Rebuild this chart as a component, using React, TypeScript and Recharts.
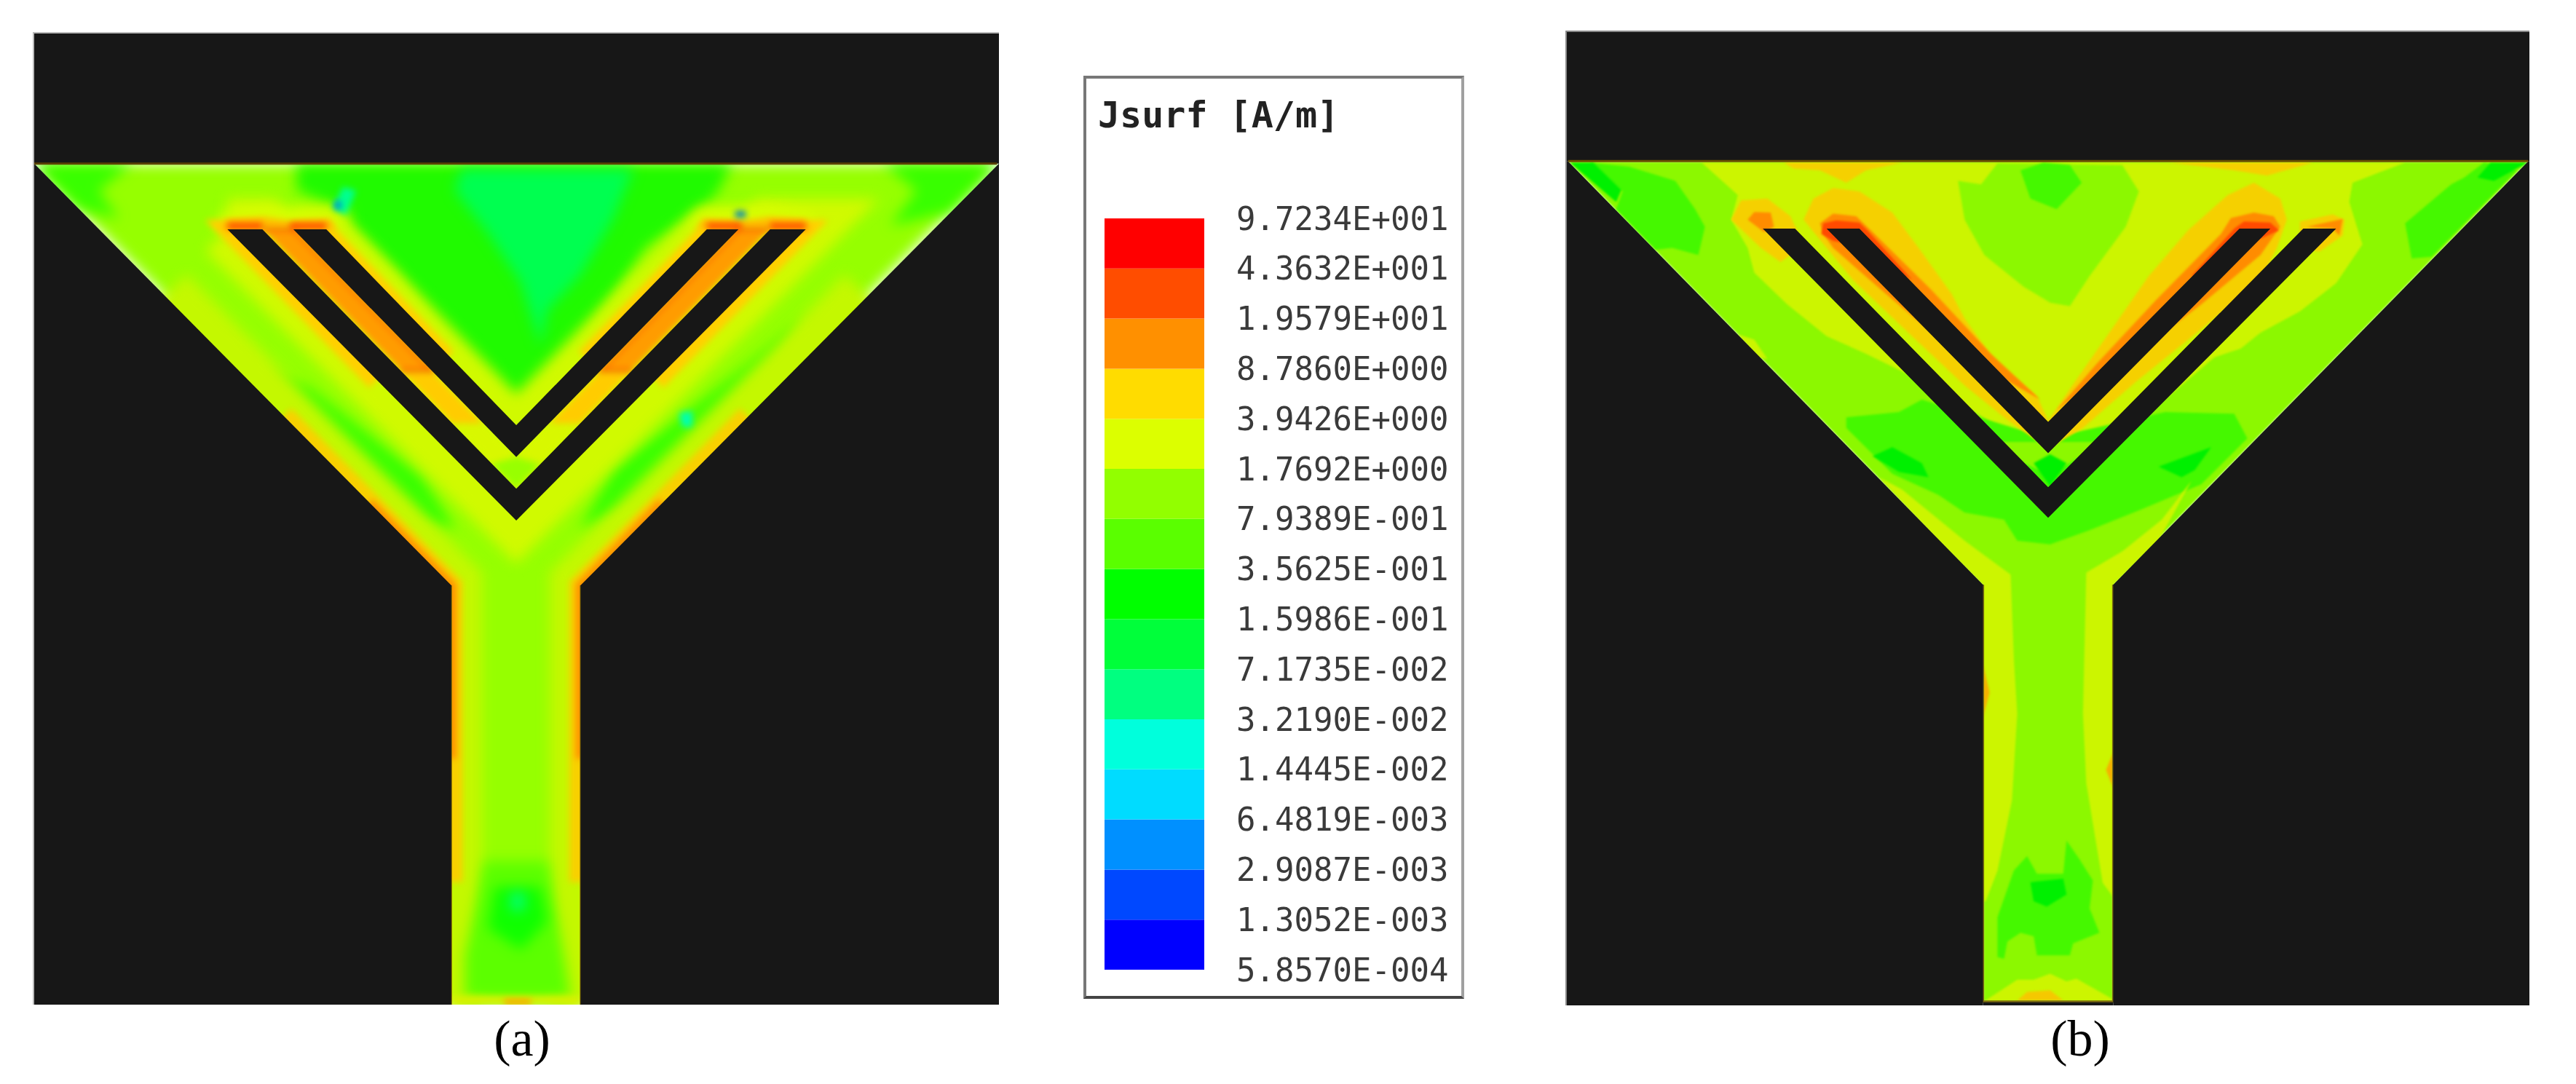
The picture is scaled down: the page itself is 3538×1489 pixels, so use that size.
import { Bar, BarChart, Scatter, ScatterChart, XAxis, YAxis } from 'recharts'

// band colours and labels of the Jsurf scale, top of the bar first
const bandColors = ['#ff0000', '#ff4d00', '#ff9000', '#ffdc00', '#dcff00', '#92ff00', '#5aff00', '#00ff00', '#00ff3a', '#00ff80', '#00ffdc', '#00dcff', '#0090ff', '#0048ff', '#0000ff']
const bandLabels = ['9.7234E+001', '4.3632E+001', '1.9579E+001', '8.7860E+000', '3.9426E+000', '1.7692E+000', '7.9389E-001', '3.5625E-001', '1.5986E-001', '7.1735E-002', '3.2190E-002', '1.4445E-002', '6.4819E-003', '2.9087E-003', '1.3052E-003', '5.8570E-004']

type Poly = number[][]
interface Layer { p: Poly; fill?: string; stroke?: string; w?: number }

// all shapes are in one traced unit system, per panel
const aPatch: Poly = [[52, 465], [1512, 465], [880, 1660], [880, 2847], [685, 2847], [685, 1660]]
const aOuterSlot: Poly = [[345, 650], [398, 650], [783, 1385], [1168, 650], [1222, 650], [783, 1475], [345, 650]]
const aInnerSlot: Poly = [[445, 650], [495, 650], [783, 1205], [1072, 650], [1120, 650], [783, 1295], [445, 650]]
const aStripOrangeL: Poly = [[398, 650], [445, 650], [655, 1050], [608, 1050]]
const aStripOrangeR: Poly = [[1168, 650], [1120, 650], [911, 1050], [958, 1050]]
const aStripGoldL: Poly = [[608, 1050], [655, 1050], [733, 1200], [686, 1200]]
const aStripGoldR: Poly = [[958, 1050], [911, 1050], [833, 1200], [880, 1200]]
const aStripYellow: Poly = [[686, 1200], [733, 1200], [783, 1295], [833, 1200], [880, 1200], [783, 1385]]
const aStripLime: Poly = [[745, 1315], [783, 1295], [820, 1315], [783, 1385]]
const aOuterHaloL: Poly = [[398, 650], [345, 650], [570, 1080]]
const aOuterHaloR: Poly = [[1168, 650], [1222, 650], [996, 1080]]
const aInnerHaloL: Poly = [[445, 650], [495, 650], [680, 1010]]
const aInnerHaloR: Poly = [[1120, 650], [1072, 650], [886, 1010]]
const aTipYellowL: Poly = [[325, 650], [335, 605], [400, 590], [500, 600], [520, 650]]
const aTipGoldL: Poly = [[335, 650], [345, 622], [400, 615], [440, 625], [500, 620], [510, 650]]
const aTipYellowR: Poly = [[1241, 650], [1231, 605], [1166, 590], [1066, 600], [1046, 650]]
const aTipGoldR: Poly = [[1231, 650], [1221, 622], [1166, 615], [1126, 625], [1066, 620], [1056, 650]]
const aCornerL: Poly = [[52, 465], [200, 465], [150, 540], [180, 620], [120, 590]]
const aCornerR: Poly = [[1512, 465], [1340, 465], [1390, 540], [1350, 640], [1440, 600]]
const aTopGreen: Poly = [[450, 465], [1110, 465], [1090, 540], [1060, 600], [980, 700], [880, 980], [783, 1180], [690, 1000], [600, 780], [530, 650], [530, 600], [450, 540]]
const aTopMint: Poly = [[700, 480], [960, 480], [930, 620], [880, 780], [830, 880], [820, 980], [790, 800], [740, 660], [690, 540]]
const aLobeL: Poly = [[400, 1050], [470, 1100], [640, 1350], [690, 1500], [640, 1480], [520, 1280], [420, 1120]]
const aLobeR: Poly = [[930, 1330], [1130, 1040], [1220, 900], [1150, 1150], [1000, 1400], [880, 1500]]
const aEdgeYellowL: Poly = [[250, 839], [685, 1660], [685, 2847]]
const aEdgeYellowR: Poly = [[1314, 839], [880, 1660], [880, 2847]]
const aEdgeGoldL: Poly = [[430, 1179], [685, 1660], [685, 2500]]
const aEdgeGoldR: Poly = [[1134, 1179], [880, 1660], [880, 2500]]
const aEdgeOrangeL: Poly = [[560, 1424], [685, 1660], [685, 2150]]
const aEdgeOrangeR: Poly = [[1004, 1424], [880, 1660], [880, 2150]]
const aStemLow: Poly = [[735, 2440], [830, 2440], [860, 2760], [865, 2829], [705, 2829], [705, 2710]]
const aStemGreen: Poly = [[750, 2513], [820, 2513], [830, 2612], [790, 2691], [740, 2631]]
const aStemMint: Poly = [[775, 2530], [795, 2530], [795, 2580], [775, 2580]]
const aFootYellow: Poly = [[685, 2822], [880, 2822], [880, 2847], [685, 2847]]
const aFootOrange: Poly = [[765, 2832], [805, 2832], [805, 2847], [765, 2847]]
const aCyanL: Poly = [[520, 530], [540, 540], [525, 610], [505, 590]]
const aCyanLow: Poly = [[1030, 1170], [1050, 1165], [1050, 1210], [1035, 1210]]
const aCaps: Poly[] = [
	[[345, 632], [398, 632], [398, 650], [345, 650]],
	[[440, 632], [495, 632], [495, 650], [440, 650]],
	[[1072, 632], [1125, 632], [1125, 650], [1072, 650]],
	[[1168, 632], [1222, 632], [1222, 650], [1168, 650]],
]
const aBlueL: Poly = [[508, 568], [518, 572], [516, 596], [507, 590]]
const aBlueR: Poly = [[1115, 598], [1131, 598], [1131, 616], [1115, 616]]
const aMaskTop: Poly = [[52, 95], [1515, 95], [1515, 464], [52, 464]]
const aMaskL: Poly = [[52, 464], [685, 1660], [685, 2847], [52, 2847]]
const aMaskR: Poly = [[1515, 464], [880, 1660], [880, 2847], [1515, 2847]]

const bPatch: Poly = [[37, 455], [1497, 455], [866, 1655], [866, 2836], [668, 2836], [668, 1655]]
const bOuterSlot: Poly = [[333, 645], [382, 645], [767, 1378], [1155, 645], [1205, 645], [767, 1465]]
const bInnerSlot: Poly = [[430, 645], [480, 645], [767, 1193], [1058, 645], [1105, 645], [767, 1282]]
const bYellow: Poly = [[240, 458], [1310, 458], [1230, 515], [1225, 570], [1245, 690], [1205, 800], [1150, 880], [1090, 940], [1060, 985], [1020, 1010], [900, 1200], [810, 1245], [720, 1240], [600, 1100], [490, 1000], [430, 950], [370, 860], [320, 770], [310, 700], [285, 620], [295, 550]]
const bCenterLime: Poly = [[630, 510], [665, 520], [690, 460], [880, 465], [905, 540], [885, 640], [830, 780], [800, 865], [770, 855], [730, 810], [670, 720], [640, 620]]
const bCenterGreen: Poly = [[725, 480], [760, 458], [800, 465], [818, 515], [780, 590], [740, 560]]
const bTopGoldL: Poly = [[365, 458], [545, 458], [490, 480], [460, 515], [420, 480], [380, 475]]
const bTopGoldR: Poly = [[950, 458], [1170, 458], [1100, 495], [1050, 480]]
const bGoldL: Poly = [[395, 620], [410, 560], [440, 530], [480, 540], [530, 600], [570, 700], [620, 830], [640, 900], [690, 1030], [750, 1120], [767, 1190], [767, 1270], [700, 1180], [640, 1090], [560, 950], [470, 790]]
const bGoldR: Poly = [[1130, 620], [1120, 560], [1080, 515], [1040, 550], [980, 650], [920, 780], [860, 940], [800, 1100], [767, 1190], [767, 1270], [820, 1210], [900, 1080], [1000, 930], [1090, 790], [1115, 700]]
const bTipGoldL: Poly = [[285, 620], [300, 565], [340, 560], [375, 610], [385, 650], [390, 700], [360, 740], [330, 700]]
const bTipOrangeL: Poly = [[310, 620], [320, 598], [345, 600], [350, 640], [335, 655]]
const bTipGoldR: Poly = [[1150, 625], [1200, 605], [1218, 620], [1215, 665], [1180, 710], [1150, 700]]
const bTipOrangeR: Poly = [[1160, 640], [1215, 618], [1210, 665], [1200, 645]]
const bOrangeL: Poly = [[425, 660], [420, 630], [440, 603], [475, 610], [500, 655], [590, 820], [680, 1000], [755, 1130], [670, 1040], [590, 940], [520, 830], [440, 700]]
const bOrangeR: Poly = [[1120, 640], [1110, 610], [1080, 600], [1045, 615], [1030, 660], [930, 850], [840, 1030], [780, 1160], [850, 1060], [930, 960], [1000, 860], [1090, 720]]
const bRedL: Poly = [[422, 660], [425, 630], [445, 622], [480, 628], [492, 650], [560, 790], [530, 760], [470, 690], [440, 680]]
const bRedR: Poly = [[1118, 650], [1105, 628], [1065, 625], [1050, 645], [985, 780], [1005, 775], [1060, 690], [1095, 670]]
const bCornerGreenL: Poly = [[130, 470], [200, 510], [230, 590], [245, 640], [235, 720], [195, 700], [170, 705], [110, 590], [120, 540], [70, 458]]
const bCornerGreenR: Poly = [[1430, 458], [1400, 500], [1380, 520], [1310, 630], [1320, 730], [1350, 725], [1480, 480]]
const bTipBrightL: Poly = [[40, 458], [75, 458], [118, 535], [110, 570]]
const bTipBrightR: Poly = [[1497, 458], [1440, 458], [1420, 500], [1445, 510]]
const bLowGreen: Poly = [[460, 1180], [540, 1165], [575, 1130], [767, 1240], [945, 1165], [1050, 1170], [1070, 1240], [1000, 1370], [910, 1440], [830, 1500], [770, 1540], [720, 1530], [700, 1470], [640, 1450], [600, 1400], [530, 1340], [460, 1210]]
const bBrightL: Poly = [[500, 1290], [530, 1265], [575, 1310], [585, 1350], [540, 1335]]
const bBrightR: Poly = [[935, 1320], [1015, 1265], [990, 1330], [970, 1350]]
const bBrightMid: Poly = [[745, 1310], [770, 1285], [795, 1310], [770, 1375]]
const bLimeGap: Poly = [[690, 1250], [850, 1250], [800, 1310], [767, 1340], [730, 1310]]
const bSideYellow: Poly = [[295, 945], [320, 960], [340, 1015], [325, 1010]]
const bStemYellowL: Poly = [[510, 1350], [545, 1385], [640, 1530], [710, 1626], [715, 1870], [720, 2020], [712, 2266], [690, 2465], [672, 2552], [668, 2552], [668, 1655], [600, 1530]]
const bStemYellowR: Poly = [[985, 1360], [940, 1470], [880, 1560], [825, 1620], [820, 2020], [825, 2217], [850, 2500], [866, 2540], [866, 1655], [935, 1530]]
const bStemGreen: Poly = [[735, 2424], [750, 2474], [790, 2474], [795, 2380], [815, 2434], [835, 2493], [830, 2572], [845, 2641], [805, 2671], [800, 2705], [750, 2705], [745, 2651], [725, 2641], [705, 2666], [700, 2715], [690, 2710], [690, 2597], [715, 2464]]
const bStemBright: Poly = [[740, 2498], [790, 2488], [795, 2533], [765, 2567], [745, 2552]]
const bFootYellow: Poly = [[675, 2829], [720, 2774], [745, 2774], [770, 2757], [795, 2779], [810, 2771], [865, 2829], [865, 2836], [670, 2836]]
const bFootGold: Poly = [[720, 2833], [735, 2809], [770, 2804], [790, 2833]]
const bSideOrangeL: Poly = [[668, 1882], [678, 1960], [668, 2030]]
const bSideOrangeR: Poly = [[866, 2130], [855, 2180], [866, 2230]]
const bOutline: Poly = [[668, 1655], [668, 2836], [866, 2836], [866, 1655]]
const bMaskTop: Poly = [[35, 88], [1499, 88], [1499, 455], [35, 455]]
const bMaskL: Poly = [[35, 455], [37, 455], [668, 1655], [668, 2847], [35, 2847]]
const bMaskR: Poly = [[1499, 455], [1497, 455], [866, 1655], [866, 2847], [1499, 2847]]
const bMaskBottom: Poly = [[668, 2838], [866, 2838], [866, 2847], [668, 2847]]

const PLATE = '#171717'

const aSoftWide: Layer[] = [
	{ p: aPatch, fill: '#96ff00' },
	{ p: aCornerL, fill: '#38ff00' },
	{ p: aCornerR, fill: '#38ff00' },
	{ p: aTopGreen, fill: '#20fa00' },
	{ p: aTopMint, fill: '#00ff50' },
	{ p: aLobeL, fill: '#38ff00' },
	{ p: aLobeR, fill: '#38ff00' },
	{ p: aEdgeYellowL, stroke: '#c4f800', w: 84 },
	{ p: aEdgeYellowR, stroke: '#c4f800', w: 84 },
	{ p: aStemLow, fill: '#5cff00' },
	{ p: aStemGreen, fill: '#10ff00' },
	{ p: aStemMint, fill: '#00ff80' },
	{ p: aOuterSlot, stroke: '#d0fa00', w: 84 },
	{ p: aInnerSlot, stroke: '#d0fa00', w: 60 },
	{ p: aTipYellowL, fill: '#d8ff00' },
	{ p: aTipYellowR, fill: '#d8ff00' },
]
const aSoftNarrow: Layer[] = [
	{ p: aEdgeGoldL, stroke: '#f8d000', w: 30 },
	{ p: aEdgeGoldR, stroke: '#f8d000', w: 30 },
	{ p: aEdgeOrangeL, stroke: '#ff9000', w: 12 },
	{ p: aEdgeOrangeR, stroke: '#ff9000', w: 12 },
	{ p: aFootYellow, fill: '#d8f000' },
	{ p: aFootOrange, fill: '#ffa000' },
	{ p: aCyanL, fill: '#00ff90' },
	{ p: aCyanLow, fill: '#00ffb0' },
	{ p: aOuterHaloL, stroke: '#ffd000', w: 26 },
	{ p: aOuterHaloR, stroke: '#ffd000', w: 26 },
	{ p: aInnerHaloL, stroke: '#ffd000', w: 20 },
	{ p: aInnerHaloR, stroke: '#ffd000', w: 20 },
	{ p: aTipGoldL, fill: '#ffc000' },
	{ p: aTipGoldR, fill: '#ffc000' },
	{ p: aStripYellow, fill: '#d8f800' },
	{ p: aStripGoldL, fill: '#ffcc00' },
	{ p: aStripGoldR, fill: '#ffcc00' },
	{ p: aStripOrangeL, fill: '#ff9c00', stroke: '#ff7000', w: 6 },
	{ p: aStripOrangeR, fill: '#ff9c00', stroke: '#ff7000', w: 6 },
	{ p: aStripLime, fill: '#98ff00' },
	...aCaps.map(p => ({ p, fill: '#ff4800' })),
	{ p: aBlueL, fill: '#0090d0' },
	{ p: aBlueR, fill: '#0080c0' },
]
const aSharp: Layer[] = [
	{ p: aOuterSlot, fill: PLATE },
	{ p: aInnerSlot, fill: PLATE },
	{ p: aMaskTop, fill: PLATE },
	{ p: aMaskL, fill: PLATE },
	{ p: aMaskR, fill: PLATE },
	{ p: [[52, 464], [1512, 464]], stroke: '#5a4000', w: 3 },
	{ p: [[685, 1660], [685, 2847]], stroke: '#8a7000', w: 1 },
	{ p: [[880, 1660], [880, 2847]], stroke: '#8a7000', w: 1 },
]

const bContours: Layer[] = [
	{ p: bPatch, fill: '#8cf800' },
	{ p: bCornerGreenL, fill: '#45f800' },
	{ p: bCornerGreenR, fill: '#45f800' },
	{ p: bTipBrightL, fill: '#00f000' },
	{ p: bTipBrightR, fill: '#00f000' },
	{ p: bYellow, fill: '#ccf500' },
	{ p: bCenterLime, fill: '#8cf800' },
	{ p: bCenterGreen, fill: '#45f800' },
	{ p: bTopGoldL, fill: '#f5d000' },
	{ p: bTopGoldR, fill: '#f5d000' },
	{ p: bSideYellow, fill: '#ccf500' },
	{ p: bLowGreen, fill: '#45f800' },
	{ p: bLimeGap, fill: '#8cf800' },
	{ p: bBrightL, fill: '#00f000' },
	{ p: bBrightR, fill: '#00f000' },
	{ p: bBrightMid, fill: '#00f000' },
	{ p: bStemYellowL, fill: '#ccf500' },
	{ p: bStemYellowR, fill: '#ccf500' },
	{ p: bGoldL, fill: '#f5d000' },
	{ p: bGoldR, fill: '#f5d000' },
	{ p: bTipGoldL, fill: '#f5d000' },
	{ p: bTipGoldR, fill: '#f5d000' },
	{ p: bTipOrangeL, fill: '#ff8c00' },
	{ p: bTipOrangeR, fill: '#ff8c00' },
	{ p: bOrangeL, fill: '#ff8c00' },
	{ p: bOrangeR, fill: '#ff8c00' },
	{ p: bRedL, fill: '#ff4a00' },
	{ p: bRedR, fill: '#ff4a00' },
	{ p: bStemGreen, fill: '#45f800' },
	{ p: bStemBright, fill: '#00f000' },
	{ p: bFootYellow, fill: '#ccf500' },
	{ p: bFootGold, fill: '#f5c800' },
	{ p: bSideOrangeL, fill: '#f5b000' },
	{ p: bSideOrangeR, fill: '#f5b000' },
]
const bSharp: Layer[] = [
	{ p: bOutline, stroke: '#7a6a10', w: 3 },
	{ p: bOuterSlot, fill: PLATE },
	{ p: bInnerSlot, fill: PLATE },
	{ p: bMaskTop, fill: PLATE },
	{ p: bMaskL, fill: PLATE },
	{ p: bMaskR, fill: PLATE },
	{ p: bMaskBottom, fill: PLATE },
	{ p: [[37, 454], [1497, 454]], stroke: '#6a5000', w: 3 },
]

const toPoints = (p: Poly) => p.map(([x, y]) => ({ x, y }))

const drawLayers = (layers: Layer[], className: string, prefix: string) =>
	layers.map((l, i) => (
		<Scatter
			key={`${prefix}-${i}`}
			className={className}
			data={toPoints(l.p)}
			isAnimationActive={false}
			shape={() => <g />}
			line={{ fill: l.fill ?? 'none', stroke: l.stroke ?? 'none', strokeWidth: l.w ?? 0 }}
		/>
	))

const Panel = ({ xDomain, yDomain, width, height, children }: any) => (
	<ScatterChart width={width} height={height} margin={{ top: 0, right: 0, bottom: 0, left: 0 }}>
		<XAxis type="number" dataKey="x" domain={xDomain} hide />
		<YAxis type="number" dataKey="y" domain={yDomain} reversed hide />
		{children}
	</ScatterChart>
)

const scaleRows = [
	Object.fromEntries([['name', 'Jsurf'], ...bandColors.map((_, i) => [`band${i}`, 1])]),
]

const ScaleBar = () => (
	<BarChart
		width={500}
		height={1112}
		data={scaleRows}
		barCategoryGap={0}
		margin={{ top: 40, right: 0, bottom: 40, left: 0 }}
	>
		<XAxis dataKey="name" hide />
		<YAxis
			type="number"
			orientation="right"
			domain={[0, bandColors.length]}
			ticks={bandLabels.map((_, i) => i)}
			interval={0}
			width={363}
			axisLine={false}
			tickLine={false}
			tickSize={0}
			tickMargin={44}
			tickFormatter={(v: number) => bandLabels[bandLabels.length - 1 - v]}
			tick={{ fontFamily: 'DejaVu Sans Mono', fontSize: 44, fill: '#3a3a3a', textAnchor: 'start' }}
		/>
		{[...bandColors].reverse().map((c, i) => (
			<Bar key={c} dataKey={`band${i}`} stackId="scale" fill={c} isAnimationActive={false} />
		))}
	</BarChart>
)

const caption = {
	position: 'absolute',
	fontFamily: 'Liberation Serif',
	fontSize: 70,
	lineHeight: '70px',
	color: '#000',
	transform: 'translateX(-50%)',
} as const

export default function App() {
	return (
		<div style={{ position: 'fixed', left: 0, top: 0, width: 3538, height: 1489, background: '#fff', overflow: 'hidden' }}>
			<style>{`
				.soft-wide path { filter: blur(9px); }
				.soft-narrow path { filter: blur(4px); }
				.contour path { filter: blur(1.5px); }
			`}</style>
			<div style={{ position: 'absolute', left: 47, top: 46, borderLeft: '2px solid #bbb', borderTop: '2px solid #bbb', marginLeft: -2, marginTop: -2 }}>
				<Panel xDomain={[52, 1515]} yDomain={[95, 2847]} width={1325} height={1334}>
					{drawLayers(aSoftWide, 'soft-wide', 'a1')}
					{drawLayers(aSoftNarrow, 'soft-narrow', 'a2')}
					{drawLayers(aSharp, 'sharp', 'a3')}
				</Panel>
			</div>
			<div style={{ position: 'absolute', left: 2152, top: 43, borderLeft: '2px solid #888', borderTop: '2px solid #888', marginLeft: -2, marginTop: -1 }}>
				<Panel xDomain={[35, 1499]} yDomain={[88, 2847]} width={1322} height={1337}>
					{drawLayers(bContours, 'contour', 'b1')}
					{drawLayers(bSharp, 'sharp', 'b2')}
				</Panel>
			</div>
			<div style={{ ...caption, left: 717, top: 1392 }}>(a)</div>
			<div style={{ ...caption, left: 2857, top: 1392 }}>(b)</div>

			<div
				style={{
					position: 'absolute',
					left: 1488,
					top: 104,
					width: 523,
					height: 1268,
					boxSizing: 'border-box',
					background: '#fff',
					borderTop: '4px solid #777',
					borderLeft: '4px solid #777',
					borderRight: '4px solid #a0a0a0',
					borderBottom: '4px solid #444',
				}}
			/>
			<div style={{ position: 'absolute', left: 1508, top: 128, fontFamily: 'DejaVu Sans Mono', fontWeight: 700, fontSize: 50, lineHeight: '60px', color: '#222', whiteSpace: 'pre', filter: 'blur(0.6px)' }}>
				Jsurf [A/m]
			</div>
			<div style={{ position: 'absolute', left: 1517, top: 260, filter: 'blur(0.6px)' }}>
				<ScaleBar />
			</div>
		</div>
	)
}
